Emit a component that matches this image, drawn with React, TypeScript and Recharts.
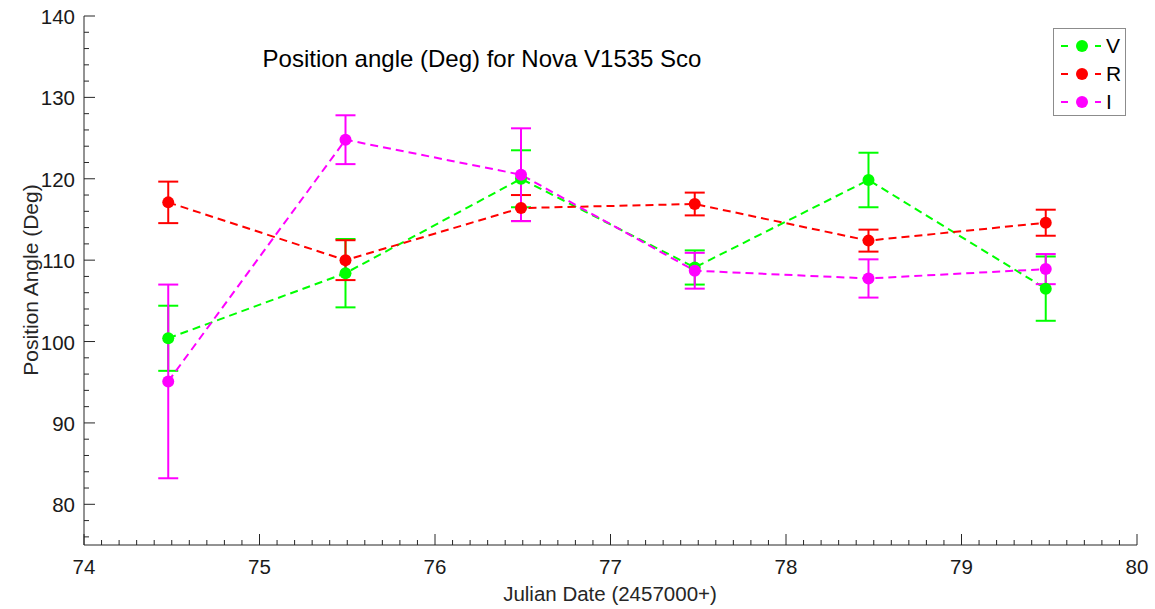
import React from 'react';
import { LineChart, Line, XAxis, YAxis, ErrorBar, Legend, Customized } from 'recharts';

// Julian date offsets (2457000+) and position angles per filter
const julianDate = [74.48, 75.49, 76.49, 77.48, 78.47, 79.48];
const vAngle = [100.4, 108.4, 120.0, 109.1, 119.85, 106.5];
const vError = [4.0, 4.2, 3.5, 2.1, 3.35, 3.95];
const rAngle = [117.1, 110.0, 116.4, 116.9, 112.4, 114.6];
const rError = [2.55, 2.45, 1.6, 1.4, 1.35, 1.6];
const iAngle = [95.1, 124.8, 120.5, 108.7, 107.75, 108.9];
const iError = [11.9, 3.0, 5.7, 2.2, 2.35, 1.85];

const filters = ['V', 'R', 'I'];
const xMajorTicks = [74, 75, 76, 77, 78, 79, 80];
const yMajorTicks = [80, 90, 100, 110, 120, 130, 140];

const xTicks = Array.from({ length: 61 }, (_, i) => Math.round((74 + i * 0.1) * 10) / 10);
const yTicks = Array.from({ length: 33 }, (_, i) => 76 + i * 2);

const data = julianDate.map((jd, i) => ({
  jd,
  V: vAngle[i],
  vErr: vError[i],
  R: rAngle[i],
  rErr: rError[i],
  I: iAngle[i],
  iErr: iError[i],
}));

const FONT = "Arial, 'Liberation Sans', Helvetica, sans-serif";
const AXIS = '#262626';
const MAJOR = 11;
const MINOR = 5;

const isMajorX = (v: number) => xMajorTicks.includes(v);
const isMajorY = (v: number) => yMajorTicks.includes(v);

const BottomTick = ({ x, y, payload }: any) => {
  const major = isMajorX(payload.value);
  return (
    <g>
      <line x1={x} x2={x} y1={y} y2={y - (major ? MAJOR : MINOR)} stroke={AXIS} />
      {major && (
        <text x={x} y={y + 29} textAnchor="middle" fontSize={20.5} fontFamily={FONT} fill="#1a1a1a">
          {payload.value}
        </text>
      )}
    </g>
  );
};

const TopTick = ({ x, y, payload }: any) => {
  const major = isMajorX(payload.value);
  return <line x1={x} x2={x} y1={y} y2={y + (major ? MAJOR : MINOR)} stroke={AXIS} />;
};

const LeftTick = ({ x, y, payload }: any) => {
  const major = isMajorY(payload.value);
  return (
    <g>
      <line x1={x} x2={x + (major ? MAJOR : MINOR)} y1={y} y2={y} stroke={AXIS} />
      {major && (
        <text x={x - 9} y={y + 8} textAnchor="end" fontSize={20.5} fontFamily={FONT} fill="#1a1a1a">
          {payload.value}
        </text>
      )}
    </g>
  );
};

const RightTick = ({ x, y, payload }: any) => {
  const major = isMajorY(payload.value);
  return <line x1={x} x2={x - (major ? MAJOR : MINOR)} y1={y} y2={y} stroke={AXIS} />;
};

const renderLegend = (props: any) => {
  const items = [...(props.payload || [])].sort(
    (a: any, b: any) => filters.indexOf(a.value) - filters.indexOf(b.value)
  );
  return (
    <div
      style={{
        width: 73,
        height: 88,
        border: '1px solid #8c8c8c',
        background: '#fff',
        boxSizing: 'border-box',
        fontFamily: FONT,
        position: 'relative',
      }}
    >
      {items.map((entry: any, i: number) => (
        <div key={entry.value} style={{ position: 'absolute', left: 0, top: 3 + i * 28, height: 28, display: 'flex', alignItems: 'center' }}>
          <svg width={52} height={20} style={{ display: 'block' }}>
            <line x1={7} x2={14} y1={10} y2={10} stroke={entry.color} strokeWidth={2} />
            <line x1={41} x2={47} y1={10} y2={10} stroke={entry.color} strokeWidth={2} />
            <circle cx={28} cy={10} r={6} fill={entry.color} />
          </svg>
          <span style={{ fontSize: 21, color: '#000', lineHeight: '20px' }}>{entry.value}</span>
        </div>
      ))}
    </div>
  );
};

const Texts = () => (
  <g fontFamily={FONT}>
    <text x={482} y={67} textAnchor="middle" fontSize={24} fill="#000">
      Position angle (Deg) for Nova V1535 Sco
    </text>
    <text x={610} y={601} textAnchor="middle" fontSize={20.5} fill="#262626">
      Julian Date (2457000+)
    </text>
    <text
      x={30}
      y={280}
      textAnchor="middle"
      fontSize={21}
      fill="#262626"
      transform="rotate(-90 30 280)"
      dominantBaseline="central"
    >
      Position Angle (Deg)
    </text>
  </g>
);

const App: React.FC = () => {
  return (
    <div style={{ position: 'absolute', left: 0, top: 0, background: '#fff' }}>
      <LineChart width={1155} height={609} data={data} margin={{ top: 16, right: 18, bottom: 34, left: 24 }}>
        <XAxis
          dataKey="jd"
          type="number"
          domain={[74, 80]}
          allowDataOverflow
          ticks={xTicks}
          interval={0}
          height={30}
          tickSize={0}
          tickMargin={0}
          tickLine={false}
          tick={<BottomTick />}
          axisLine={{ stroke: AXIS }}
        />
        <XAxis
          xAxisId="top"
          orientation="top"
          type="number"
          domain={[74, 80]}
          allowDataOverflow
          ticks={xTicks}
          interval={0}
          height={0}
          tickSize={0}
          tickMargin={0}
          tickLine={false}
          tick={<TopTick />}
          axisLine={{ stroke: AXIS }}
        />
        <YAxis
          type="number"
          domain={[75, 140]}
          allowDataOverflow
          ticks={yTicks}
          interval={0}
          width={60}
          tickSize={0}
          tickMargin={0}
          tickLine={false}
          tick={<LeftTick />}
          axisLine={{ stroke: AXIS }}
        />
        <YAxis
          yAxisId="right"
          orientation="right"
          type="number"
          domain={[75, 140]}
          allowDataOverflow
          ticks={yTicks}
          interval={0}
          width={0}
          tickSize={0}
          tickMargin={0}
          tickLine={false}
          tick={<RightTick />}
          axisLine={{ stroke: AXIS }}
        />
        <Legend
          layout="horizontal"
          verticalAlign="middle"
          align="center"
          content={renderLegend}
          wrapperStyle={{ position: 'absolute', left: 1053, top: 28, width: 73, height: 88 }}
        />
        <Line
          dataKey="V"
          name="V"
          stroke="#00ff00"
          strokeWidth={2}
          strokeDasharray="8 5"
          dot={{ r: 6, fill: '#00ff00', stroke: '#00ff00', strokeWidth: 0 }}
          isAnimationActive={false}
        >
          <ErrorBar dataKey="vErr" direction="y" width={10} stroke="#00ff00" strokeWidth={2} isAnimationActive={false} />
        </Line>
        <Line
          dataKey="R"
          name="R"
          stroke="#ff0000"
          strokeWidth={2}
          strokeDasharray="8 5"
          dot={{ r: 6, fill: '#ff0000', stroke: '#ff0000', strokeWidth: 0 }}
          isAnimationActive={false}
        >
          <ErrorBar dataKey="rErr" direction="y" width={10} stroke="#ff0000" strokeWidth={2} isAnimationActive={false} />
        </Line>
        <Line
          dataKey="I"
          name="I"
          stroke="#ff00ff"
          strokeWidth={2}
          strokeDasharray="8 5"
          dot={{ r: 6, fill: '#ff00ff', stroke: '#ff00ff', strokeWidth: 0 }}
          isAnimationActive={false}
        >
          <ErrorBar dataKey="iErr" direction="y" width={10} stroke="#ff00ff" strokeWidth={2} isAnimationActive={false} />
        </Line>
        <Customized component={Texts} />
      </LineChart>
    </div>
  );
};

export default App;
